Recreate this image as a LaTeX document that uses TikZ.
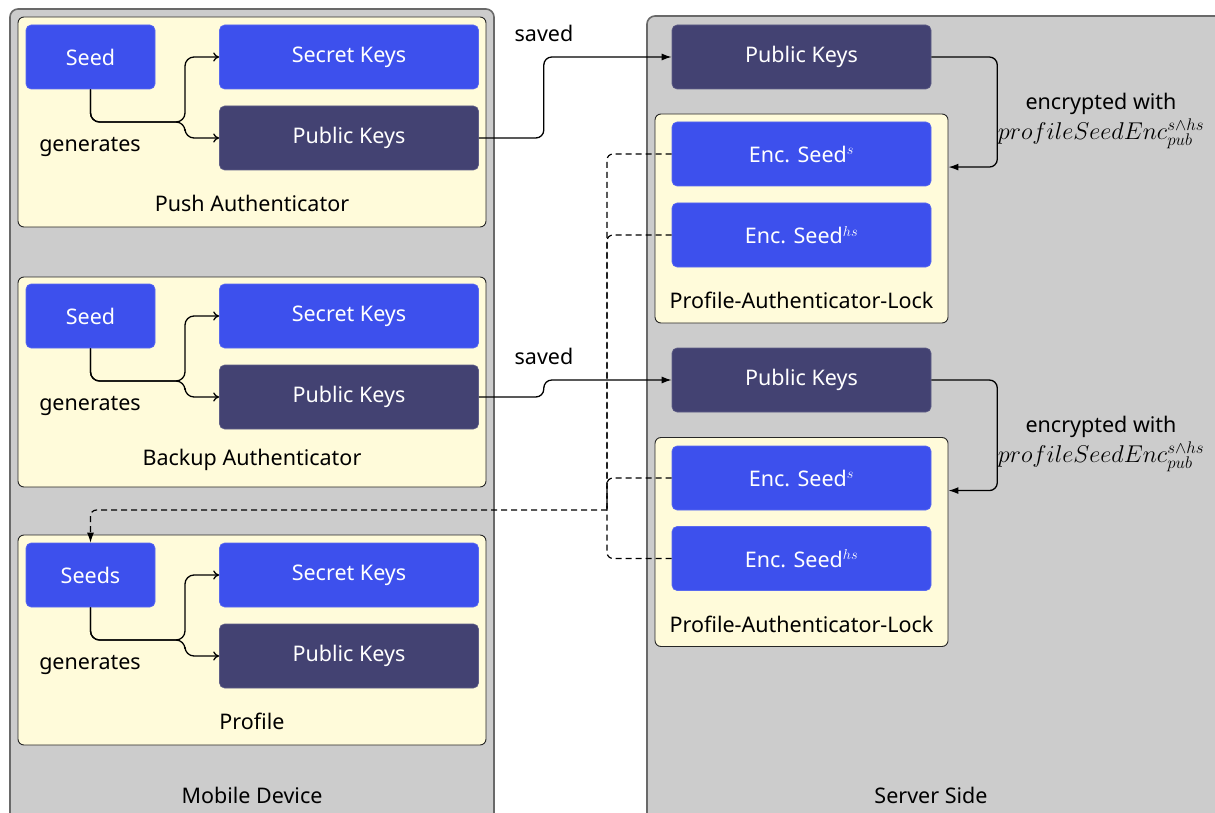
\documentclass[tikz,border=0pt]{standalone}
\usepackage{fontspec}
\setmainfont{Noto Sans}
\usetikzlibrary{arrows.meta,calc}

\definecolor{seedblue}{RGB}{61,80,237}
\definecolor{keynavy}{RGB}{67,66,114}
\definecolor{panelyellow}{RGB}{255,251,218}
\definecolor{zonegray}{RGB}{204,204,204}
\definecolor{zoneedge}{RGB}{105,105,105}

\newcommand{\seedkey}{\scalebox{1.17}{$profileSeedEnc_{pub}^{s\wedge hs}$}}

\begin{document}
\begin{tikzpicture}[x=1pt,y=-1pt,
  font=\fontsize{21.5}{25}\selectfont,
  zone/.style={draw=zoneedge, line width=1.6pt, fill=zonegray, rounded corners=8pt},
  panel/.style={draw=black!85, line width=0.9pt, fill=panelyellow, rounded corners=6pt,
                minimum width=468pt, minimum height=210pt},
  lockpanel/.style={draw=black!85, line width=0.9pt, fill=panelyellow, rounded corners=6pt,
                minimum width=293pt, minimum height=209pt},
  keybox/.style={rounded corners=5pt, text=white, inner sep=0pt},
  smallbox/.style={keybox, minimum width=129pt, minimum height=64pt},
  widebox/.style={keybox, minimum width=259pt, minimum height=64pt},
  secret/.style={fill=seedblue, draw=seedblue!85!white, line width=0.6pt},
  public/.style={fill=keynavy, draw=keynavy!85!white, line width=0.6pt},
  plain/.style={text=black, inner sep=0pt},
  gen/.style={-{To[length=6pt,width=9pt]}, line width=1.3pt, rounded corners=9pt},
  flow/.style={-{Latex[length=10pt,width=7pt]}, line width=1.3pt, rounded corners=8pt},
  copyback/.style={dash pattern=on 6pt off 4pt, line width=1.2pt, rounded corners=6pt},
]
\useasboundingbox (0,0) rectangle (1215,813);

% the two sides
\path[zone] (10,9) rectangle (494,840);
\path[zone] (647,16) rectangle (1240,840);
\node[plain] (mobile) at (252,795) {Mobile Device};
\node[plain] (server) at (931,795) {Server Side};

% ---------- mobile device ----------
\node[panel] (push) at (252,122) {};
\node[panel] (backup) at (252,382) {};
\node[panel] (profile) at (252,640) {};
\node[plain] (pushlbl) at (252,203) {Push Authenticator};
\node[plain] (backuplbl) at (252,460) {Backup Authenticator};
\node[plain] (profilelbl) at (252,721) {Profile};

\node[smallbox, secret] (seed1) at (90.5,57) {Seed};
\node[widebox, secret] (sec1) at (349,57) {Secret Keys};
\node[widebox, public] (pub1) at (349,138) {Public Keys};
\node[plain] (gen1) at (90,147) {generates};

\node[smallbox, secret] (seed2) at (90.5,316) {Seed};
\node[widebox, secret] (sec2) at (349,316) {Secret Keys};
\node[widebox, public] (pub2) at (349,397) {Public Keys};
\node[plain] (gen2) at (90,406) {generates};

\node[smallbox, secret] (seeds) at (90.5,575) {Seeds};
\node[widebox, secret] (sec3) at (349,575) {Secret Keys};
\node[widebox, public] (pub3) at (349,656) {Public Keys};
\node[plain] (gen3) at (90,665) {generates};

% seed -> key pairs
\foreach \s/\a/\b/\y in {seed1/sec1/pub1/122, seed2/sec2/pub2/381, seeds/sec3/pub3/640}{
  \coordinate (split) at (185,\y);
  \draw[gen] (\s.south) |- (split) |- (\a.west);
  \draw[gen] (\s.south) |- (split) |- (\b.west);
}

% ---------- server side ----------
\node[widebox, public] (spub1) at (801.5,57) {Public Keys};
\node[lockpanel] (lock1) at (801.5,218.5) {};
\node[widebox, secret] (enc1s) at (801.5,154) {Enc. Seed$^{s}$};
\node[widebox, secret] (enc1hs) at (801.5,235) {Enc. Seed$^{hs}$};
\node[plain] (lock1lbl) at (801.5,300) {Profile-Authenticator-Lock};

\node[widebox, public] (spub2) at (801.5,380) {Public Keys};
\node[lockpanel] (lock2) at (801.5,542) {};
\node[widebox, secret] (enc2s) at (801.5,478) {Enc. Seed$^{s}$};
\node[widebox, secret] (enc2hs) at (801.5,558.5) {Enc. Seed$^{hs}$};
\node[plain] (lock2lbl) at (801.5,624) {Profile-Authenticator-Lock};

% uploads
\node[plain] (saved1) at (544,33) {saved};
\node[plain] (saved2) at (544,356) {saved};
\draw[flow] (pub1.east) -- ++(65,0) |- (spub1.west);
\draw[flow] (pub2.east) -- ++(65,0) |- (spub2.west);

% encryption of the seeds
\node[plain] (encw1) at (1101,104) {encrypted with};
\node[plain] (encm1) at (1101,134) {\seedkey};
\node[plain] (encw2) at (1101,427) {encrypted with};
\node[plain] (encm2) at (1101,457) {\seedkey};
\draw[flow] (spub1.east) -- ++(66,0) |- ($(lock1.north east)!0.255!(lock1.south east)$);
\draw[flow] (spub2.east) -- ++(66,0) |- ($(lock2.north east)!0.255!(lock2.south east)$);

% recovered seeds back to the profile
\coordinate (jn) at (607,510);
\draw[copyback] (enc1s.west) -| (jn);
\draw[copyback] (enc1hs.west) -| (jn);
\draw[copyback] (enc2s.west) -| (jn);
\draw[copyback] (enc2hs.west) -| (jn);
\draw[copyback, -{Latex[length=10pt,width=7pt]}] (jn) -| (seeds.north);
\end{tikzpicture}
\end{document}
